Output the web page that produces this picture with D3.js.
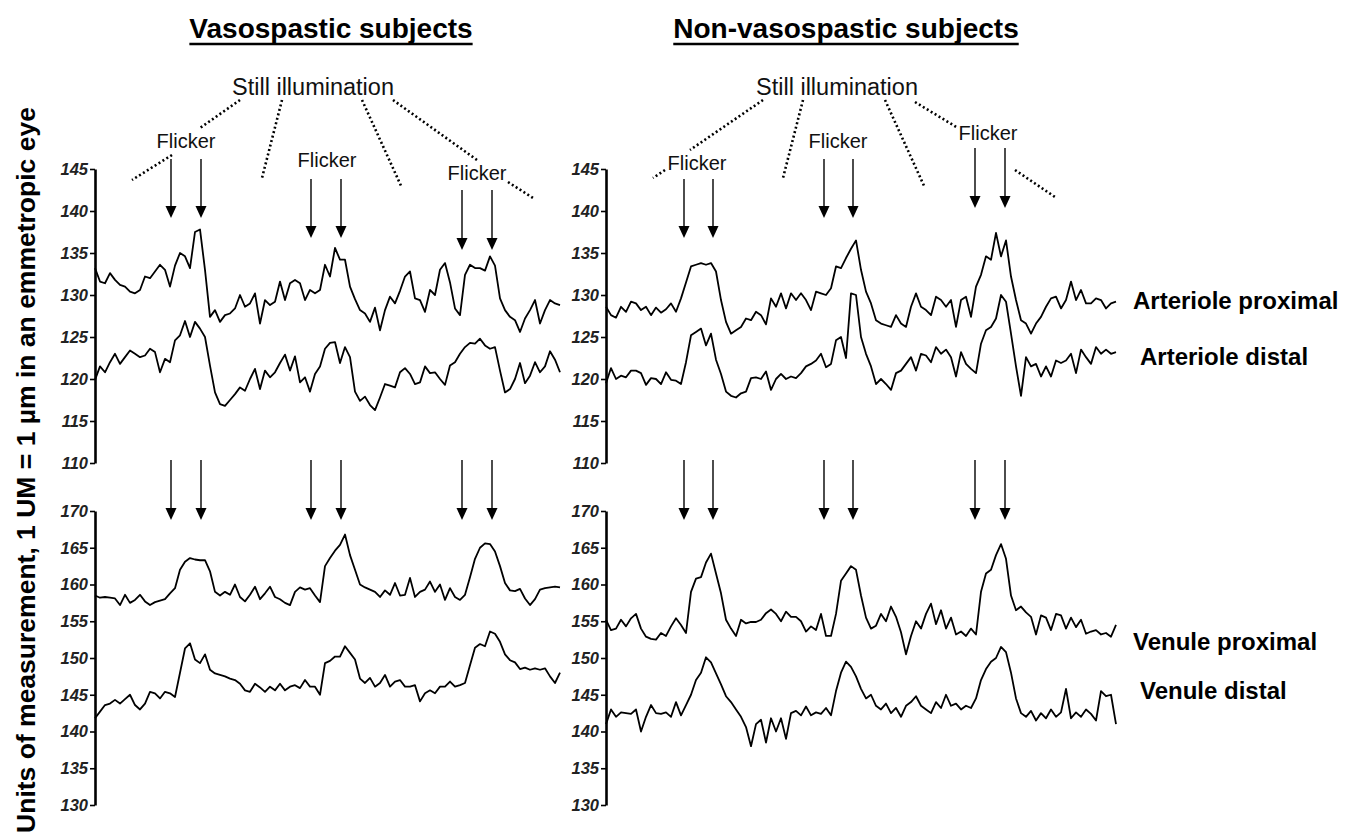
<!DOCTYPE html>
<html><head><meta charset="utf-8">
<script src="https://cdn.jsdelivr.net/npm/d3@7/dist/d3.min.js"></script>
<style>
html,body{margin:0;padding:0;background:#fff;}
svg{display:block;font-family:"Liberation Sans",Arial,Helvetica,sans-serif;}
</style></head>
<body>
<svg id="chart" width="1346" height="838"></svg>
<script>
// ---------- data ----------
const panelTitles = ["Vasospastic subjects", "Non-vasospastic subjects"];
const seriesNames = ["Arteriole proximal", "Arteriole distal", "Venule proximal", "Venule distal"];
const topTicks = [110, 115, 120, 125, 130, 135, 140, 145];
const bottomTicks = [130, 135, 140, 145, 150, 155, 160, 165, 170];
const yAxisTitle = "Units of measurement, 1 UM = 1 \u00b5m in an emmetropic eye";

// flicker on / off sample indices
const flickerLeft = [15.2, 21.2, 43.2, 49.2, 73.4, 79.4];
const flickerRight = [15.6, 21.4, 43.6, 49.4, 73.8, 79.8];

// Vasospastic (left)
const vasoArterioleProximal = [133.2,131.6,131.4,132.6,131.8,131.2,131.0,130.4,130.2,130.6,
132.2,132.0,132.8,133.6,133.0,131.0,133.5,135.0,134.6,133.2,
137.5,137.8,133.0,127.4,128.2,126.8,127.6,127.8,128.4,130.0,
128.6,129.0,130.2,126.6,129.4,128.8,129.2,131.6,129.4,131.4,
131.8,131.4,129.4,130.6,130.2,130.6,133.6,132.2,135.6,134.2,
134.2,131.0,129.5,128.2,127.8,126.8,128.5,125.8,128.2,129.8,
129.0,130.5,132.2,132.8,129.6,129.4,128.0,130.6,130.0,133.0,
133.8,131.5,128.4,127.6,132.4,133.6,133.2,133.2,132.9,134.6,
133.5,129.6,128.2,127.4,127.0,125.6,127.2,128.2,129.4,126.6,
128.2,129.4,129.0,128.8];
const vasoArterioleDistal = [119.9,121.5,120.8,122.0,123.0,121.8,122.6,123.4,123.0,122.6,
122.8,123.6,123.2,120.8,122.4,122.0,124.6,125.2,126.9,125.0,
126.8,126.0,125.0,121.6,118.4,117.0,116.8,117.5,118.2,119.0,
118.6,120.0,121.2,118.8,121.0,120.2,120.8,121.9,122.9,121.0,
122.7,119.6,120.2,118.5,120.6,121.5,123.6,124.3,124.4,121.9,
123.8,122.6,118.5,117.4,117.9,116.9,116.3,117.8,119.4,119.2,
119.0,120.8,121.3,120.6,119.4,119.6,121.5,120.7,120.8,120.0,
119.3,121.6,122.0,123.0,123.8,124.3,124.2,124.8,124.0,123.6,
123.8,121.0,118.4,118.8,120.0,121.9,119.5,120.4,122.0,120.8,
121.5,123.3,122.3,120.8];
const vasoVenuleProximal = [158.5,158.2,158.3,158.2,158.1,157.2,158.6,157.5,157.9,158.6,
157.7,157.2,157.6,157.8,158.0,158.8,159.5,162.0,163.1,163.6,
163.4,163.3,163.3,161.8,159.0,158.5,159.0,158.6,160.0,158.3,
157.7,158.6,159.7,158.0,158.8,159.7,158.3,158.0,157.5,157.2,
159.0,159.6,159.3,159.5,158.5,157.6,162.5,163.6,164.6,165.4,
166.8,164.0,162.0,160.0,159.6,159.3,159.0,158.3,159.2,158.6,
160.2,158.5,158.6,160.9,158.3,159.0,159.3,160.4,159.0,160.0,
157.9,159.5,158.3,157.9,158.6,161.0,163.5,165.0,165.6,165.5,
164.5,162.5,160.2,159.2,159.1,159.4,158.1,157.2,158.0,159.3,
159.5,159.6,159.7,159.6];
const vasoVenuleDistal = [141.8,142.7,143.6,143.8,144.3,143.8,144.4,145.0,143.6,143.0,
143.8,145.4,145.2,144.5,145.4,145.2,144.7,148.0,151.3,152.0,
149.8,149.3,150.5,148.4,147.9,147.7,147.5,147.2,147.0,146.5,
145.6,145.4,146.5,146.0,145.4,146.1,145.6,146.5,145.6,146.1,
146.3,145.9,147.0,146.1,146.1,145.0,149.3,149.6,150.2,150.2,
151.6,150.7,149.8,147.2,146.6,147.3,146.1,146.6,147.7,146.1,
146.8,147.0,146.1,146.1,146.3,144.1,145.2,145.6,145.2,146.1,
146.1,146.8,146.1,146.3,146.6,149.0,151.4,151.9,151.6,153.6,
153.3,152.2,150.5,149.7,149.4,148.5,148.7,148.4,148.6,148.4,
148.6,147.5,146.6,148.0];

// Non-vasospastic (right)
const nonArterioleProximal = [128.6,127.6,127.3,128.6,128.0,129.2,129.0,128.2,128.6,127.6,
128.5,127.9,128.3,129.0,128.0,129.6,131.5,133.4,133.6,133.8,
133.6,133.8,132.8,129.4,126.8,125.4,125.8,126.2,127.2,127.0,
128.0,127.6,126.5,129.6,128.6,130.2,128.4,130.2,129.4,130.2,
129.4,128.2,130.4,130.2,130.0,130.8,133.4,133.2,134.4,135.5,
136.5,133.0,130.4,129.0,127.0,126.6,126.4,126.2,127.6,126.6,
126.2,128.6,130.2,128.6,128.2,127.6,129.8,129.4,128.6,129.4,
126.2,129.4,129.8,127.4,131.0,132.4,134.6,134.2,137.4,134.6,
136.5,132.2,129.4,127.0,126.6,125.4,126.6,127.4,128.6,129.6,
129.8,128.4,129.4,131.6,129.4,130.6,129.0,129.0,129.6,129.4,
128.4,129.0,129.2];
const nonArterioleDistal = [119.5,121.3,120.0,120.4,120.2,121.0,121.0,120.7,119.3,120.1,
120.0,119.4,120.8,119.9,119.8,119.4,122.0,125.2,125.6,126.0,
124.0,125.4,122.3,120.6,118.5,118.0,117.8,118.3,118.5,120.1,
120.2,120.0,120.9,118.7,120.0,120.6,120.0,120.3,120.1,120.7,
121.5,121.8,122.2,123.0,121.4,121.8,124.6,125.0,122.5,130.2,
130.0,125.0,123.0,121.5,119.4,120.0,119.4,118.7,120.7,121.0,
121.8,122.6,121.0,123.0,122.8,122.0,123.8,123.0,123.5,122.6,
120.3,123.2,121.8,121.2,120.7,124.2,125.8,126.2,127.2,130.0,
129.2,125.4,121.5,118.0,122.6,121.5,121.8,120.3,121.5,120.3,
122.2,121.9,122.2,123.0,120.7,123.5,122.6,121.8,123.8,123.0,
123.5,123.0,123.2];
const nonVenuleProximal = [155.2,153.8,154.0,155.2,154.3,155.4,156.0,154.0,152.9,152.6,
152.5,153.4,153.0,154.3,155.4,154.5,153.4,159.0,160.8,161.0,
163.0,164.2,161.5,158.8,155.2,154.0,153.0,155.2,154.7,154.9,
154.9,155.2,156.1,156.6,156.0,155.0,156.3,155.6,155.6,155.0,
153.6,154.3,153.8,156.0,153.0,153.0,156.0,160.5,161.5,162.5,
162.0,158.5,155.5,154.0,154.4,156.0,155.0,157.0,155.6,153.5,
150.5,153.0,155.0,154.0,156.0,157.4,154.6,156.5,154.0,155.5,
153.2,153.6,153.0,154.0,153.2,159.0,161.5,162.0,164.0,165.5,
163.5,158.5,156.5,157.0,156.2,155.6,153.2,155.8,155.5,153.8,
156.0,155.8,154.0,155.5,154.2,155.2,153.3,153.6,153.8,153.2,
153.4,152.9,154.5];
const nonVenuleDistal = [141.0,143.0,142.0,142.6,142.5,142.4,143.0,140.0,142.0,143.6,
142.5,142.4,142.6,142.0,144.0,142.2,143.6,145.0,147.0,148.0,
150.1,149.4,147.9,146.4,144.8,144.0,143.0,142.0,140.6,138.0,
141.0,141.6,138.5,141.8,140.0,141.8,139.0,142.5,142.8,142.2,
143.4,142.2,142.6,142.4,143.2,142.2,145.5,148.0,149.5,148.8,
147.5,145.8,144.5,145.0,143.5,143.0,143.8,142.5,143.2,142.0,
143.5,144.0,144.8,143.5,143.0,142.5,144.0,143.2,145.0,143.5,
143.8,143.0,143.5,143.2,144.5,147.0,148.5,149.5,150.0,151.5,
150.8,148.0,144.5,142.5,142.0,142.8,141.5,142.5,141.8,143.0,
142.0,142.6,145.8,141.8,142.6,142.0,143.0,142.4,141.5,145.5,
144.8,145.0,141.0];

// ---------- layout ----------
const svg = d3.select("#chart");
svg.append("rect").attr("width",1346).attr("height",838).attr("fill","#fff");

const panels = [
  {x0:95, x1:560, title:panelTitles[0], titleX:331, flicker:flickerLeft,
   arteries:[vasoArterioleProximal, vasoArterioleDistal],
   venules:[vasoVenuleProximal, vasoVenuleDistal],
   arrowTops:[[159,218],[179,238],[190,250]]},
  {x0:606, x1:1116, title:panelTitles[1], titleX:846, flicker:flickerRight,
   arteries:[nonArterioleProximal, nonArterioleDistal],
   venules:[nonVenuleProximal, nonVenuleDistal],
   arrowTops:[[179,238],[159,218],[148,208]]}
];

const yTop = d3.scaleLinear().domain([110,145]).range([463,169]);
const yBot = d3.scaleLinear().domain([130,170]).range([805,511]);

function drawAxis(x, scale, ticks){
  const g = svg.append("g").attr("transform",`translate(${x},0)`)
    .call(d3.axisLeft(scale).tickValues(ticks).tickSizeInner(5).tickSizeOuter(0).tickPadding(2));
  g.attr("font-size",null).attr("font-family",null);
  g.select(".domain").attr("stroke","#000").attr("stroke-width",2.6);
  g.selectAll(".tick line").attr("stroke","#000").attr("stroke-width",1.6);
  g.selectAll(".tick text").style("font-size","16.5px").style("font-weight","bold")
    .style("font-style","italic").attr("fill","#222")
    .style("font-family","'Liberation Sans',Arial,sans-serif");
}

function drawArrow(x, yStart, yTip){
  const g = svg.append("g");
  g.append("line").attr("x1",x).attr("x2",x).attr("y1",yStart).attr("y2",yTip-10)
    .attr("stroke","#000").attr("stroke-width",1.4);
  g.append("path").attr("d",`M${x-5.5},${yTip-12}L${x+5.5},${yTip-12}L${x},${yTip}Z`).attr("fill","#000");
}

panels.forEach(p=>{
  drawAxis(p.x0, yTop, topTicks);
  drawAxis(p.x0, yBot, bottomTicks);

  const drawTrace = (arr, ys)=>{
    const xs = d3.scaleLinear().domain([0, arr.length-1]).range([p.x0, p.x1]);
    svg.append("path").datum(arr)
      .attr("d", d3.line().x((d,i)=>xs(i)).y(d=>ys(d)))
      .attr("fill","none").attr("stroke","#000").attr("stroke-width",1.8)
      .attr("stroke-linejoin","round");
  };
  p.arteries.forEach(a=>drawTrace(a, yTop));
  p.venules.forEach(v=>drawTrace(v, yBot));

  const n = p.arteries[0].length;
  const xs = d3.scaleLinear().domain([0, n-1]).range([p.x0, p.x1]);
  p.flicker.forEach((f,i)=>{
    const [ys, yt] = p.arrowTops[Math.floor(i/2)];
    drawArrow(xs(f), ys, yt);
    drawArrow(xs(f), 460, 520);
  });

  // title
  const t = svg.append("text").attr("x",p.titleX).attr("y",38).attr("text-anchor","middle")
    .attr("font-size",28).attr("font-weight","bold").attr("fill","#000").text(p.title);
  const bb = t.node().getBBox();
  svg.append("line").attr("x1",bb.x).attr("x2",bb.x+bb.width).attr("y1",44).attr("y2",44)
    .attr("stroke","#000").attr("stroke-width",2.4);
});

// annotations: Still illumination + Flicker + dotted connectors
const stillLabels = [[313,95],[837,95]];
stillLabels.forEach(([x,y])=>svg.append("text").attr("x",x).attr("y",y).attr("text-anchor","middle")
  .attr("font-size",23.5).attr("fill","#111").text("Still illumination"));

const flickerLabels = [[186,148],[327,167],[477,180],[697,170],[838,148],[988,140]];
flickerLabels.forEach(([x,y])=>svg.append("text").attr("x",x).attr("y",y).attr("text-anchor","middle")
  .attr("font-size",20).attr("fill","#111").text("Flicker"));

const dotted = [
  [[240,100],[200,128]], [[172,155],[132,180]],
  [[282,100],[262,178]],
  [[362,100],[402,188]],
  [[393,100],[477,160]], [[508,182],[533,198]],
  [[763,100],[690,150]], [[665,170],[653,178]],
  [[803,100],[783,178]],
  [[885,100],[925,188]],
  [[915,102],[958,128]], [[1015,170],[1055,197]]
];
dotted.forEach(([a,b])=>svg.append("line").attr("x1",a[0]).attr("y1",a[1]).attr("x2",b[0]).attr("y2",b[1])
  .attr("stroke","#000").attr("stroke-width",2.6).attr("stroke-dasharray","2 2.6"));

// series labels
const labelPos = [[1133,309],[1140,365],[1133,650],[1140,699]];
seriesNames.forEach((s,i)=>svg.append("text").attr("x",labelPos[i][0]).attr("y",labelPos[i][1])
  .attr("font-size",24).attr("font-weight","bold").attr("fill","#000").text(s));

// y-axis title
svg.append("text").attr("transform","translate(35,470) rotate(-90)").attr("text-anchor","middle")
  .attr("font-size",26.5).attr("font-weight","bold").attr("fill","#000").text(yAxisTitle);
</script>
</body></html>
